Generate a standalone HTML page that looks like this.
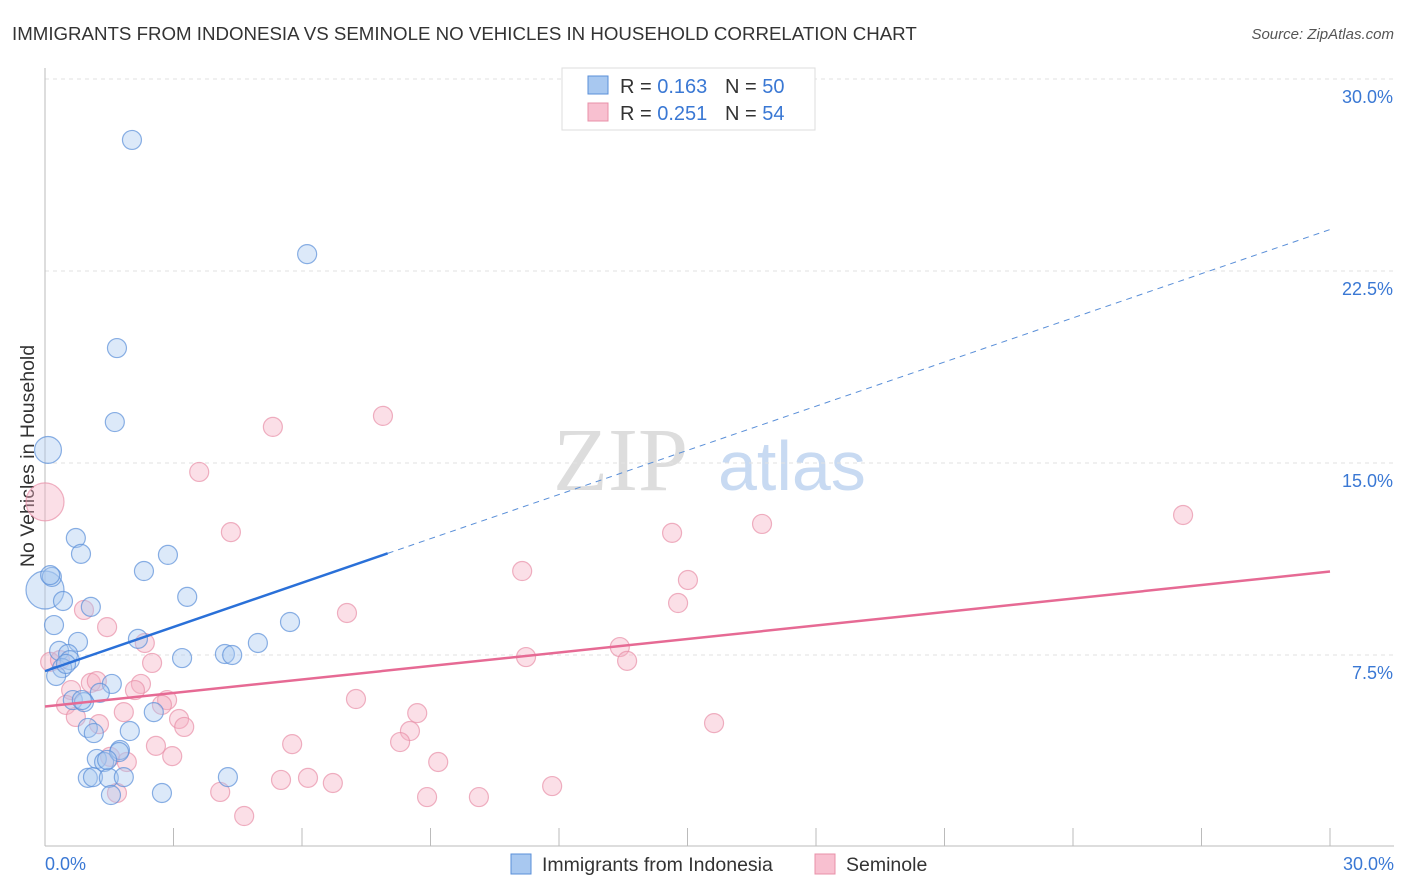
<!DOCTYPE html>
<html><head><meta charset="utf-8"><style>
body{margin:0;background:#fff;font-family:"Liberation Sans",sans-serif;}
</style></head><body>
<svg id="c" width="1406" height="892" style="display:block">
<text x="12" y="40" font-size="18.7" fill="#333">IMMIGRANTS FROM INDONESIA VS SEMINOLE NO VEHICLES IN HOUSEHOLD CORRELATION CHART</text>
<text x="1394" y="39" font-size="15" fill="#555" font-style="italic" text-anchor="end">Source: ZipAtlas.com</text>
<text x="34" y="456" font-size="19.5" fill="#333" text-anchor="middle" transform="rotate(-90 34 456)">No Vehicles in Household</text>
<g><text x="553" y="490" font-size="90" font-family="Liberation Serif,serif" fill="#ddd">ZIP</text><text x="718" y="490" font-size="70" fill="#c8daf2">atlas</text></g>
<g id="grid"></g><g id="marks"></g>
<g>
<rect x="562" y="68" width="253" height="62" fill="#fff" stroke="#ddd"/>
<rect x="588" y="76" width="20" height="18" fill="#a8c8f0" stroke="#5a8fd8"/>
<text x="620" y="93" font-size="20" fill="#333">R = <tspan fill="#3a78d4">0.163</tspan></text>
<text x="725" y="93" font-size="20" fill="#333">N = <tspan fill="#3a78d4">50</tspan></text>
<rect x="588" y="103" width="20" height="18" fill="#f8c0d0" stroke="#e890a8"/>
<text x="620" y="120" font-size="20" fill="#333">R = <tspan fill="#3a78d4">0.251</tspan></text>
<text x="725" y="120" font-size="20" fill="#333">N = <tspan fill="#3a78d4">54</tspan></text>
</g>
<g>
<rect x="511" y="854" width="20" height="20" fill="#a8c8f0" stroke="#5a8fd8"/>
<text x="542" y="871" font-size="19.5" fill="#333">Immigrants from Indonesia</text>
<rect x="815" y="854" width="20" height="20" fill="#f8c0d0" stroke="#e890a8"/>
<text x="846" y="871" font-size="19.5" fill="#333">Seminole</text>
</g>
</svg>
<script>
const bx=[2.03,6.12,1.68,1.63,0.07,0.0,0.16,0.42,0.72,0.84,2.31,2.87,3.32,1.07,0.21,0.77,2.17,5.72,4.97,4.20,4.37,3.20,0.33,0.54,0.58,0.40,0.26,1.56,1.28,0.65,0.91,2.54,1.98,1.00,1.14,1.75,1.21,1.38,1.00,1.12,1.49,1.84,1.54,2.73,4.27,0.49,0.86,1.73,1.45,0.12];
const by=[27.62,23.16,19.49,16.60,15.51,10.04,10.55,9.61,12.07,11.45,10.78,11.41,9.77,9.38,8.67,8.01,8.13,8.79,7.97,7.54,7.50,7.38,7.66,7.54,7.30,6.99,6.68,6.37,6.02,5.74,5.66,5.27,4.53,4.65,4.45,3.79,3.44,3.32,2.70,2.73,2.70,2.73,2.03,2.11,2.73,7.15,5.74,3.71,3.40,10.62];
const bw=[1,1,1,1,2,4,1,1,1,1,1,1,1,1,1,1,1,1,1,1,1,1,1,1,1,1,1,1,1,1,1,1,1,1,1,1,1,1,1,1,1,1,1,1,1,1,1,1,1,1];
const px=[7.89,5.32,3.60,4.34,14.64,16.74,26.57,11.14,15.01,14.78,7.05,0.91,1.45,2.33,2.50,11.23,13.42,13.59,0.12,0.35,0.61,1.07,1.21,2.24,2.10,2.85,2.73,7.26,0.49,0.72,1.26,1.84,3.13,3.25,8.69,8.52,15.62,8.29,5.77,2.59,2.97,1.52,1.91,9.18,5.51,6.14,6.72,11.84,4.09,1.68,8.92,10.13,4.65,0.0];
const py=[16.84,16.41,14.65,12.30,12.27,12.62,12.97,10.78,10.43,9.53,9.14,9.26,8.59,7.97,7.19,7.42,7.81,7.27,7.23,7.30,6.13,6.41,6.48,6.37,6.13,5.74,5.55,5.78,5.55,5.08,4.80,5.27,5.00,4.69,5.23,4.53,4.84,4.10,4.02,3.95,3.55,3.52,3.32,3.32,2.62,2.70,2.50,2.38,2.15,2.11,1.95,1.95,1.21,13.48];
const pw=[1,1,1,1,1,1,1,1,1,1,1,1,1,1,1,1,1,1,1,1,1,1,1,1,1,1,1,1,1,1,1,1,1,1,1,1,1,1,1,1,1,1,1,1,1,1,1,1,1,1,1,1,1,4];
const yTicks=[7.5,15,22.5,30];
const xTickVals=[3,6,9,12,15,18,21,24,27,30];
const blueTrend=[0,6.87,8,11.47];
const pinkTrend=[0,5.49,30,10.76];
const NS="http://www.w3.org/2000/svg";
const X=v=>45+v/30*1285, Y=v=>847-v/30*768;
function mk(t,a,p){const e=document.createElementNS(NS,t);for(const k in a)e.setAttribute(k,a[k]);p.appendChild(e);return e;}
const g=document.getElementById('grid'),m=document.getElementById('marks');
yTicks.forEach(v=>{
 const l=mk('line',{x1:45,x2:1394,y1:Y(v),y2:Y(v),stroke:'#e2e2e2','stroke-dasharray':'4,4'},g);
 
 
 const t=mk('text',{x:1393,y:Y(v)+24,'font-size':18,fill:'#3a78d4','text-anchor':'end'},g);
 t.textContent=v.toFixed(1)+'%';
 
 
});
const ax=mk('line',{x1:45,x2:1394,y1:846,y2:846,stroke:'#bbb'},g);


const ay=mk('line',{x1:45,x2:45,y1:68,y2:846,stroke:'#bbb'},g);


xTickVals.forEach(v=>{
 const l=mk('line',{x1:X(v),x2:X(v),y1:828,y2:846,stroke:'#bbb'},g);
 
 
});
[['0.0%',45,'start'],['30.0%',1394,'end']].forEach(a=>{
 const t=mk('text',{x:a[1],y:870,'font-size':18,fill:'#3a78d4','text-anchor':a[2]},g);
 t.textContent=a[0];
 
 
});
function pts(xs,ys,ws,fill,stroke,name){
 xs.forEach((v,i)=>{
  const c=mk('circle',{cx:X(v),cy:Y(ys[i]),r:9.5*Math.sqrt(ws[i]),fill:fill,'fill-opacity':0.4,stroke:stroke,'stroke-opacity':0.7,'stroke-width':1.2},m);
  
  
 });
}
pts(px,py,pw,'#f4b0c4','#e890a8','seminole-point');
pts(bx,by,bw,'#a8c8f0','#5a8fd8','indonesia-point');
const bl=mk('line',{x1:X(blueTrend[0]),y1:Y(blueTrend[1]),x2:X(blueTrend[2]),y2:Y(blueTrend[3]),stroke:'#2a70d8','stroke-width':2.5},m);


const slope=(blueTrend[3]-blueTrend[1])/(blueTrend[2]-blueTrend[0]);
const bd=mk('line',{x1:X(blueTrend[2]),y1:Y(blueTrend[3]),x2:X(30),y2:Y(blueTrend[1]+slope*30),stroke:'#5a8fd8','stroke-width':1,'stroke-dasharray':'6,5'},m);


const pl=mk('line',{x1:X(pinkTrend[0]),y1:Y(pinkTrend[1]),x2:X(pinkTrend[2]),y2:Y(pinkTrend[3]),stroke:'#e66a94','stroke-width':2.5},m);


</script>
</body></html>
